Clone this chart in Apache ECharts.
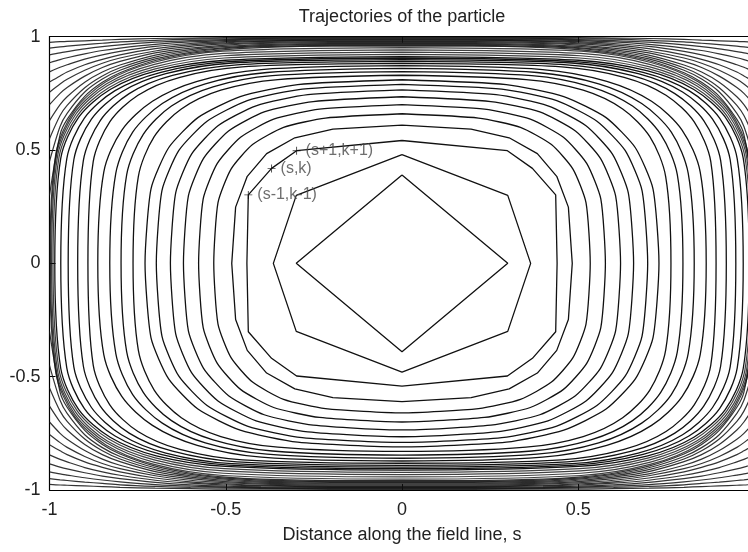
<!DOCTYPE html>
<html>
<head>
<meta charset="utf-8">
<script src="https://cdn.jsdelivr.net/npm/echarts@6/dist/echarts.min.js"></script>
<style>
  html, body { margin: 0; padding: 0; background: #fff; }
  #chart { width: 748px; height: 552px; }
</style>
</head>
<body>
<div id="chart"></div>
<script>
// Axis ticks
const xTicks = [-1, -0.5, 0, 0.5];
const yTicks = [-1, -0.5, 0, 0.5, 1];

// Trapped (bouncing) orbits, one quadrant each: [s, v] from the top point to the turning point
const innerOrbits = [
  [[0, 0.39], [0.30, 0]],
  [[0, 0.48], [0.30, 0.30], [0.365, 0]],
  [[0, 0.542], [0.299, 0.497], [0.37, 0.419], [0.436, 0.302], [0.44, 0]],
  [[0, .61], [.196, .592], [.304, .554], [.384, .484], [.439, .384], [.472, .248], [.483, 0]]
];
const middleOrbits = [
  [[0, .66], [.217, .641], [.336, .600], [.424, .524], [.485, .416], [.522, .268], [.534, 0]],
  [[0, .70], [.234, .680], [.364, .636], [.458, .556], [.524, .441], [.564, .284], [.577, 0]],
  [[0, .735], [.252, .714], [.391, .668], [.492, .584], [.563, .463], [.606, .298], [.62, 0]],
  [[0, .765], [.267, .744], [.414, .695], [.522, .607], [.597, .482], [.642, .311], [.657, 0]],
  [[0, .79], [.283, .769], [.439, .718], [.553, .627], [.633, .498], [.681, .321], [.697, 0]],
  [[0, .81], [.296, .789], [.459, .736], [.579, .643], [.662, .510], [.712, .329], [.729, 0]]
];
const outerOrbits = [
  [[0, .83], [.352, .811], [.514, .764], [.626, .681], [.703, .559], [.748, .383], [.763, 0]],
  [[0, .846], [.368, .828], [.536, .779], [.654, .694], [.734, .569], [.781, .391], [.797, 0]],
  [[0, .86], [.383, .842], [.558, .792], [.680, .705], [.764, .579], [.812, .397], [.829, 0]],
  [[0, .872], [.399, .855], [.581, .803], [.708, .715], [.795, .587], [.846, .403], [.863, 0]],
  [[0, .882], [.453, .867], [.630, .821], [.749, .742], [.829, .624], [.876, .449], [.891, 0]],
  [[0, .891], [.468, .876], [.651, .829], [.774, .749], [.856, .630], [.904, .453], [.92, 0]],
  [[0, .899], [.482, .884], [.670, .837], [.796, .756], [.881, .636], [.931, .457], [.947, 0]],
  [[0, .906], [.492, .890], [.684, .843], [.814, .762], [.901, .641], [.951, .461], [.968, 0]],
  [[0, .912], [.501, .896], [.697, .849], [.828, .767], [.917, .645], [.968, .464], [.985, 0]]
];
const bandOrbits = [
  [[0, .922], [.504, .906], [.700, .858], [.832, .775], [.921, .652], [.973, .469], [.99, 0]],
  [[0, .932], [.506, .916], [.703, .867], [.836, .784], [.925, .659], [.977, .474], [.994, 0]],
  [[0, .942], [.507, .926], [.705, .877], [.838, .792], [.928, .666], [.980, .479], [.997, 0]],
  [[0, .952], [.508, .936], [.706, .886], [.840, .801], [.930, .673], [.982, .484], [.999, 0]]
];

// Passing orbits: v sampled at passS (mirrored to negative s)
const passS = [0, 0.2, 0.4, 0.5, 0.6, 0.7, 0.8, 0.85, 0.9, 0.95, 0.97, 1.0];
const passV = [
  [.958, .958, .952, .943, .926, .895, .841, .799, .737, .635, .568, .30],
  [.962, .962, .956, .948, .931, .902, .852, .813, .756, .662, .604, .45],
  [.966, .966, .961, .952, .937, .910, .863, .827, .775, .697, .652, .55],
  [.970, .970, .965, .957, .943, .919, .875, .844, .799, .735, .700, .63],
  [.974, .974, .970, .963, .950, .929, .891, .864, .826, .776, .750, .70],
  [.978, .978, .974, .968, .957, .937, .906, .883, .852, .812, .791, .755],
  [.982, .982, .979, .973, .964, .947, .920, .900, .876, .844, .827, .80],
  [.985, .985, .982, .978, .970, .957, .935, .920, .901, .876, .865, .845],
  [.988, .988, .986, .983, .977, .966, .950, .939, .924, .907, .899, .885],
  [.991, .991, .989, .987, .983, .976, .964, .956, .946, .934, .929, .92],
  [.994, .994, .993, .991, .989, .984, .977, .971, .965, .958, .955, .95],
  [.997, .997, .996, .996, .994, .992, .988, .985, .982, .979, .978, .975]
];

// Three consecutive grid points marked on one trajectory
const markedPoints = [[-0.436, 0.302], [-0.370, 0.419], [-0.299, 0.497]];
const markedNames = ['(s-1,k-1)', '(s,k)', '(s+1,k+1)'];

const FONT = 'Liberation Sans, Arial, Helvetica, sans-serif';

// Build a closed loop from one quadrant using the symmetry in s and v
function closeLoop(q) {
  const pts = [];
  for (let i = 0; i < q.length; i++) pts.push([q[i][0], q[i][1]]);
  for (let i = q.length - 2; i >= 0; i--) pts.push([q[i][0], -q[i][1]]);
  for (let i = 1; i < q.length; i++) pts.push([-q[i][0], -q[i][1]]);
  for (let i = q.length - 2; i >= 0; i--) pts.push([-q[i][0], q[i][1]]);
  return pts;
}
function passLine(vals, sign) {
  const pts = [];
  for (let i = passS.length - 1; i > 0; i--) pts.push([-passS[i], sign * vals[i]]);
  for (let i = 0; i < passS.length; i++) pts.push([passS[i], sign * vals[i]]);
  return pts;
}

function lineSeries(data, width, opacity, smooth) {
  return {
    type: 'line', data: data, showSymbol: false, symbol: 'none',
    silent: true, animation: false, clip: true, smooth: smooth,
    lineStyle: { color: '#111', width: width, opacity: opacity }
  };
}

const series = [];
innerOrbits.forEach(q => series.push(lineSeries(closeLoop(q), 1.3, 1, false)));
middleOrbits.forEach(q => series.push(lineSeries(closeLoop(q), 1.3, 1, 0.2)));
outerOrbits.forEach(q => series.push(lineSeries(closeLoop(q), 1.3, 1, 0.3)));
bandOrbits.forEach(q => series.push(lineSeries(closeLoop(q), 1.2, 0.8, 0.3)));
passV.forEach(v => {
  series.push(lineSeries(passLine(v, 1), 1.2, 0.85, 0.3));
  series.push(lineSeries(passLine(v, -1), 1.2, 0.85, 0.3));
});
series.push({
  type: 'scatter', data: markedPoints, animation: false, silent: true,
  symbol: 'path://M4,0H5V4H9V5H5V9H4V5H0V4H4Z', symbolSize: 8,
  itemStyle: { color: '#111' },
  label: {
    show: true, position: 'right', distance: 5,
    formatter: p => markedNames[p.dataIndex],
    color: '#4a4a4a', fontSize: 16, fontFamily: FONT
  },
  z: 10
});

const chart = echarts.init(document.getElementById('chart'), null, { renderer: 'canvas' });
chart.setOption({
  backgroundColor: '#fff',
  animation: false,
  title: {
    text: 'Trajectories of the particle', left: 397, top: 3, textAlign: 'center',
    textStyle: { fontSize: 18, fontWeight: 'normal', color: '#222', fontFamily: FONT }
  },
  grid: { left: 49.5, top: 36.7, width: 705, height: 453.3, outerBoundsMode: 'none', containLabel: false },
  xAxis: [{
    type: 'value', min: -1, max: 1, interval: 0.5, position: 'bottom',
    axisLine: { show: true, onZero: false, lineStyle: { color: '#000', width: 1.2 } },
    axisTick: { show: true, inside: true, length: 6, lineStyle: { color: '#000' } },
    splitLine: { show: false },
    axisLabel: {
      margin: 11, fontSize: 18, color: '#222', fontFamily: FONT,
      formatter: v => (xTicks.indexOf(v) >= 0 ? String(v) : '')
    },
    name: 'Distance along the field line, s', nameLocation: 'middle', nameGap: 36,
    nameTextStyle: { fontSize: 18, color: '#222', fontFamily: FONT }
  }, {
    type: 'value', min: -1, max: 1, interval: 0.5, position: 'top',
    axisLine: { show: true, onZero: false, lineStyle: { color: '#000', width: 1.2 } },
    axisTick: { show: true, inside: true, length: 6, lineStyle: { color: '#000' } },
    splitLine: { show: false }, axisLabel: { show: false }
  }],
  yAxis: {
    type: 'value', min: -1, max: 1, interval: 0.5,
    axisLine: { show: true, onZero: false, lineStyle: { color: '#000', width: 1.2 } },
    axisTick: { show: true, inside: true, length: 6, lineStyle: { color: '#000' } },
    splitLine: { show: false },
    axisLabel: {
      margin: 9, fontSize: 18, color: '#222', fontFamily: FONT,
      formatter: v => (yTicks.indexOf(v) >= 0 ? String(v) : '')
    }
  },
  series: series
});
</script>
</body>
</html>
